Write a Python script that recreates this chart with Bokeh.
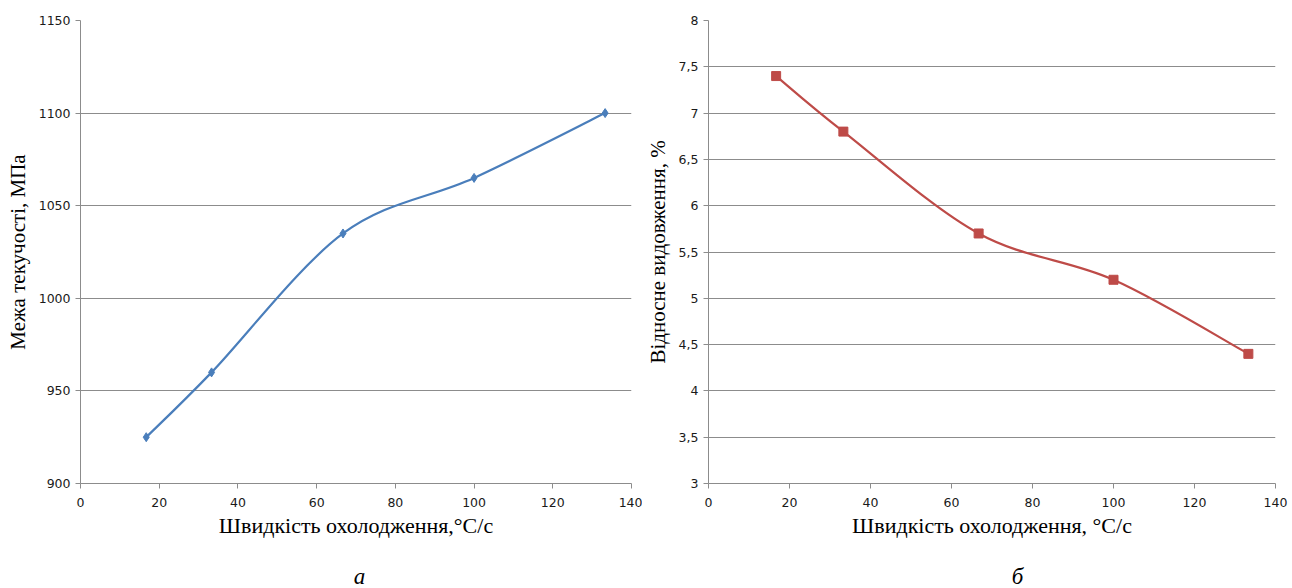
from bokeh.plotting import figure
from bokeh.layouts import row, column
from bokeh.models import Range1d, FixedTicker
from bokeh.core.properties import value
from bokeh.embed import file_html
from bokeh.resources import INLINE

# ---- data ----
x_rate = [16.7, 33.3, 66.7, 100.0, 133.3]
yield_strength = [925, 960, 1035, 1065, 1100]
elongation = [7.4, 6.8, 5.7, 5.2, 4.4]

x_ticks = [0, 20, 40, 60, 80, 100, 120, 140]
left_y_ticks = [900, 950, 1000, 1050, 1100, 1150]
right_y_ticks = [3, 3.5, 4, 4.5, 5, 5.5, 6, 6.5, 7, 7.5, 8]
right_y_labels = ["3", "3,5", "4", "4,5", "5", "5,5", "6", "6,5", "7", "7,5", "8"]

left_ylabel = "Межа текучості, МПа"
right_ylabel = "Відносне видовження, %"
left_xlabel = "Швидкість охолодження,°C/с"
right_xlabel = "Швидкість охолодження, °C/с"
captions = ["а", "б"]

GRID = "#8c8c8c"
SERIF = "Liberation Serif"
SANS = "DejaVu Sans"


def smooth_segments(xs, ys):
    """Bezier control points (Catmull-Rom style, as in spreadsheet smoothed lines)."""
    n = len(xs)
    px = [xs[0]] + list(xs) + [xs[-1]]
    py = [ys[0]] + list(ys) + [ys[-1]]
    seg = dict(x0=[], y0=[], x1=[], y1=[], cx0=[], cy0=[], cx1=[], cy1=[])
    for i in range(n - 1):
        a, b, c, d = i, i + 1, i + 2, i + 3
        seg["x0"].append(px[b]); seg["y0"].append(py[b])
        seg["x1"].append(px[c]); seg["y1"].append(py[c])
        seg["cx0"].append(px[b] + (px[c] - px[a]) / 6.0)
        seg["cy0"].append(py[b] + (py[c] - py[a]) / 6.0)
        seg["cx1"].append(px[c] - (px[d] - px[b]) / 6.0)
        seg["cy1"].append(py[c] - (py[d] - py[b]) / 6.0)
    return seg


def style(p, yticks, xlabel, ylabel):
    p.outline_line_color = None
    p.xgrid.grid_line_color = None
    p.ygrid.grid_line_color = GRID
    p.ygrid.grid_line_width = 1
    p.xaxis.ticker = FixedTicker(ticks=x_ticks)
    p.yaxis.ticker = FixedTicker(ticks=yticks)
    for ax in (p.xaxis, p.yaxis):
        ax.axis_line_color = GRID
        ax.major_tick_line_color = GRID
        ax.major_tick_out = 5
        ax.major_tick_in = 0
        ax.minor_tick_line_color = None
        ax.major_label_text_font = SANS
        ax.major_label_text_font_size = "12.5px"
        ax.major_label_text_color = "#1a1a1a"
        ax.axis_label_text_font = SERIF
        ax.axis_label_text_font_style = "normal"
        ax.axis_label_text_color = "#000000"
    p.xaxis.axis_label_text_font_size = "22px"
    p.yaxis.axis_label_text_font_size = "21px"
    p.xaxis.major_label_standoff = 9
    p.yaxis.major_label_standoff = 5
    p.xaxis.axis_label = xlabel
    p.yaxis.axis_label = ylabel
    p.xaxis.axis_label_standoff = 3


# ---- left chart ----
p1 = figure(width=642, height=548, output_backend="svg", toolbar_location=None,
            x_range=Range1d(0, 140), y_range=Range1d(900, 1150),
            min_border_left=80, min_border_right=11, min_border_top=20, min_border_bottom=65)
style(p1, left_y_ticks, left_xlabel, left_ylabel)
p1.yaxis.axis_label_standoff = 6
s1 = smooth_segments(x_rate, yield_strength)
p1.bezier(x0=s1["x0"], y0=s1["y0"], x1=s1["x1"], y1=s1["y1"],
          cx0=s1["cx0"], cy0=s1["cy0"], cx1=s1["cx1"], cy1=s1["cy1"],
          line_color="#4A7EBB", line_width=2.2)
p1.scatter(x_rate, yield_strength, marker="diamond", size=9,
           fill_color="#4A7EBB", line_color="#4A7EBB")

# ---- right chart ----
p2 = figure(width=650, height=548, output_backend="svg", toolbar_location=None,
            x_range=Range1d(0, 140), y_range=Range1d(3, 8),
            min_border_left=64, min_border_right=17, min_border_top=18, min_border_bottom=61)
style(p2, right_y_ticks, right_xlabel, right_ylabel)
p2.yaxis.major_label_overrides = {t: l for t, l in zip(right_y_ticks, right_y_labels)}
p2.yaxis.axis_label_standoff = 6
s2 = smooth_segments(x_rate, elongation)
p2.bezier(x0=s2["x0"], y0=s2["y0"], x1=s2["x1"], y1=s2["y1"],
          cx0=s2["cx0"], cy0=s2["cy0"], cx1=s2["cx1"], cy1=s2["cy1"],
          line_color="#BE4B48", line_width=2.2)
p2.scatter(x_rate, elongation, marker="square", size=9,
           fill_color="#BE4B48", line_color="#BE4B48")

# ---- caption strip ----
p3 = figure(width=1292, height=40, output_backend="svg", toolbar_location=None,
            x_range=Range1d(0, 1292), y_range=Range1d(0, 40),
            x_axis_location=None, y_axis_location=None,
            min_border=0, min_border_left=0, min_border_right=0,
            min_border_top=0, min_border_bottom=0)
p3.outline_line_color = None
p3.xgrid.grid_line_color = None
p3.ygrid.grid_line_color = None
p3.text(x=[359, 1017], y=[12, 12], text=captions,
        text_font=value(SERIF), text_font_style="italic", text_font_size="23px",
        text_color="#000000", text_align="center", text_baseline="middle")

layout = column(row(p1, p2), p3)
open("out.html", "w").write(file_html(layout, INLINE))
